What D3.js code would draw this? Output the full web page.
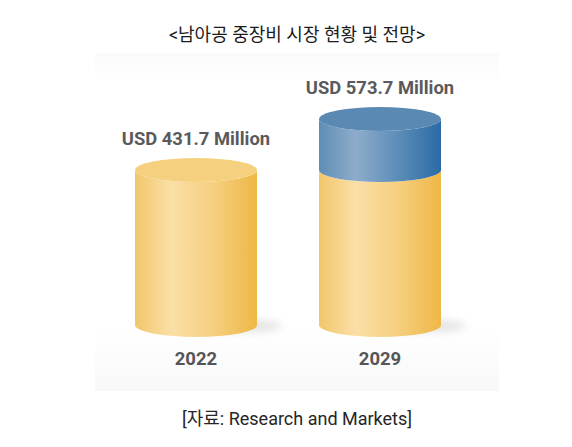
<!DOCTYPE html>
<html lang="ko">
<head>
    <meta charset="UTF-8">
    <title>남아공 중장비 시장 현황 및 전망</title>
    <script src="https://d3js.org/d3.v7.min.js"></script>
    <style>
        html, body { margin: 0; padding: 0; background: #fff; }
        svg { display: block; }
        text { font-family: Roboto, "Noto Sans CJK KR", sans-serif; }
    </style>
</head>
<body>
    <svg width="572" height="447"></svg>

    <script>
        // Data
        const years = ["2022", "2029"];
        const marketValues = [431.7, 573.7];
        const valueLabels = ["USD 431.7 Million", "USD 573.7 Million"];
        const chartTitle = "<남아공 중장비 시장 현황 및 전망>";
        const sourceText = "[자료: Research and Markets]";

        const svg = d3.select("svg");
        const defs = svg.append("defs");

        // Scales
        const x = d3.scaleBand().domain(years).range([135, 441]).paddingInner(0.337).paddingOuter(0);
        const y = d3.scaleLinear().domain([0, 573.7]).range([325, 119]);
        const ry = 12;

        function sideGradient(id, stops) {
            const g = defs.append("linearGradient").attr("id", id);
            stops.forEach(s => g.append("stop").attr("offset", s[0]).attr("stop-color", s[1]));
        }
        sideGradient("yellowSide", [[0, "#f2c76c"], [0.3, "#fadfa6"], [0.65, "#f5cf7f"], [1, "#efb746"]]);
        sideGradient("blueSide", [[0, "#5f8db5"], [0.3, "#8eacca"], [0.65, "#5c8db8"], [1, "#2a6ba5"]]);

        // Panel background
        const panelGrad = defs.append("linearGradient").attr("id", "panel")
            .attr("x1", 0).attr("x2", 0).attr("y1", 0).attr("y2", 1);
        [[0, "#fafafa"], [0.09, "#ffffff"], [0.82, "#ffffff"], [1, "#f8f8f8"]].forEach(s =>
            panelGrad.append("stop").attr("offset", s[0]).attr("stop-color", s[1]));
        svg.append("rect").attr("x", 95).attr("y", 53).attr("width", 404).attr("height", 338)
            .attr("fill", "url(#panel)");

        defs.append("filter").attr("id", "soft").attr("x", "-30%").attr("y", "-100%")
            .attr("width", "160%").attr("height", "300%")
            .append("feGaussianBlur").attr("stdDeviation", 4);

        // Cylinder body between two values: sides plus curved bottom
        function bodyPath(left, w, top, bottom) {
            return `M${left},${top} A${w / 2},${ry} 0 0 0 ${left + w},${top}` +
                   `L${left + w},${bottom} A${w / 2},${ry} 0 0 1 ${left},${bottom} Z`;
        }

        const bars = svg.selectAll("g.bar").data(years).enter().append("g").attr("class", "bar");

        bars.each(function (year, i) {
            const g = d3.select(this);
            const left = x(year), w = x.bandwidth(), cx = left + w / 2;
            const base = y(0);

            // Ground shadow
            g.append("ellipse").attr("cx", cx + 50).attr("cy", base + 1)
                .attr("rx", 36).attr("ry", 6).attr("fill", "#e2e2e2").attr("filter", "url(#soft)");

            g.append("path").attr("d", bodyPath(left, w, y(marketValues[0]), base))
                .attr("fill", "url(#yellowSide)");

            if (i === 0) {
                g.append("ellipse").attr("cx", cx).attr("cy", y(marketValues[0]))
                    .attr("rx", w / 2).attr("ry", ry).attr("fill", "#f5d07e");
            } else {
                g.append("path").attr("d", bodyPath(left, w, y(marketValues[1]), y(marketValues[0])))
                    .attr("fill", "url(#blueSide)");
                g.append("ellipse").attr("cx", cx).attr("cy", y(marketValues[1]))
                    .attr("rx", w / 2).attr("ry", ry).attr("fill", "#5a8ab3");
            }

            g.append("text").attr("x", cx).attr("y", y(marketValues[i]) - 25)
                .attr("text-anchor", "middle").attr("font-size", 18.4).attr("font-weight", 700)
                .attr("fill", "#5a5a5c").text(valueLabels[i]);

            g.append("text").attr("x", cx).attr("y", 365)
                .attr("text-anchor", "middle").attr("font-size", 18.5).attr("font-weight", 700)
                .attr("fill", "#555557").text(year);
        });

        svg.append("text").attr("x", 297).attr("y", 41).attr("text-anchor", "middle")
            .attr("font-size", 18).attr("fill", "#1c1c1c").text(chartTitle);

        svg.append("text").attr("x", 297).attr("y", 425).attr("text-anchor", "middle")
            .attr("font-size", 18).attr("fill", "#262626").text(sourceText);
    </script>
</body>
</html>
